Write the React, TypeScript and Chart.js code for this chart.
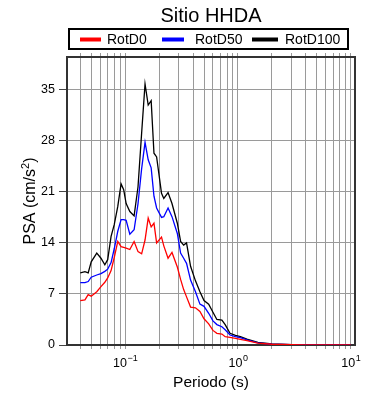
import React, { useEffect, useRef } from "react";
import { Chart, registerables } from "chart.js";

Chart.register(...registerables);

const chartTitle = "Sitio HHDA";
const xAxisTitle = "Periodo (s)";
const yAxisTitleMain = "PSA (cm/s";
const yAxisTitleSup = "2";
const yAxisTitleEnd = ")";

const seriesLabels = ["RotD0", "RotD50", "RotD100"];
const seriesColors = ["#ff0000", "#0000ff", "#000000"];

const periods = [
  0.04, 0.044, 0.047, 0.05, 0.056, 0.061, 0.066, 0.07, 0.075, 0.08, 0.086, 0.092, 0.097,
  0.102, 0.11, 0.12, 0.13, 0.14, 0.15, 0.16, 0.17, 0.18, 0.19, 0.21, 0.22, 0.24, 0.26,
  0.29, 0.31, 0.33, 0.35, 0.38, 0.42, 0.46, 0.5, 0.55, 0.6, 0.65, 0.72, 0.77, 0.85, 0.95,
  1.05, 1.2, 1.5, 2.0, 3.0, 4.0, 6.0, 10.0,
];

const rotD0 = [
  6.1, 6.2, 6.9, 6.7, 7.3, 8.0, 8.6, 9.2, 10.2, 12.0, 14.2, 13.5, 13.4,
  13.3, 13.1, 14.2, 12.8, 12.5, 14.4, 17.4, 16.2, 16.7, 14.0, 14.8, 13.6, 11.9, 12.7,
  10.7, 9.0, 7.6, 6.6, 5.2, 5.1, 4.6, 3.6, 2.9, 2.0, 1.6, 1.5, 1.14, 1.05, 0.92,
  0.78, 0.6, 0.25, 0.1, 0.04, 0.03, 0.02, 0.01,
];

const rotD50 = [
  8.55, 8.55, 8.7, 9.3, 9.6, 9.8, 10.1, 10.4, 11.3, 13.2, 15.6, 17.2, 17.2,
  17.1, 15.2, 15.8, 19.4, 24.2, 27.8, 25.4, 24.3, 20.4, 18.8, 17.5, 17.6, 18.8, 17.6,
  15.3, 12.6, 11.9, 11.2, 8.9, 7.3, 5.6, 5.3, 4.35, 3.3, 2.8, 2.5, 2.1, 1.37, 1.14,
  1.0, 0.7, 0.3, 0.1, 0.04, 0.02, 0.015, 0.01,
];

const rotD100 = [
  9.9, 10.05, 9.9, 11.4, 12.6, 11.9, 11.0, 11.7, 14.9, 16.5, 19.0, 22.1, 21.3,
  19.4, 18.3, 17.7, 21.7, 29.1, 35.8, 32.9, 33.5, 26.3, 25.8, 20.8, 20.1, 20.9, 19.4,
  16.7, 14.2, 13.7, 14.0, 10.8, 8.8, 7.3, 6.1, 5.6, 4.5, 3.5, 3.4, 2.8, 1.6, 1.33,
  1.14, 0.8, 0.37, 0.14, 0.05, 0.03, 0.02, 0.01,
];

const yTickValues = [0, 7, 14, 21, 28, 35];
const xGridValues = [
  0.04, 0.05, 0.06, 0.07, 0.08, 0.09, 0.1, 0.2, 0.3, 0.4, 0.5, 0.6, 0.7, 0.8, 0.9,
  1, 2, 3, 4, 5, 6, 7, 8, 9, 10,
];
const xMajorValues = [0.1, 1, 10];
const xMajorBase = ["10", "10", "10"];
const xMajorExp = ["\u22121", "0", "1"];

const FONT = "'Liberation Sans', Arial, Helvetica, sans-serif";

const decorPlugin = {
  id: "decor",
  beforeDatasetsDraw(chart: any) {
    const { ctx, chartArea: a } = chart;
    ctx.save();
    ctx.strokeStyle = "#333";
    ctx.lineWidth = 2;
    ctx.strokeRect(a.left, a.top, a.right - a.left, a.bottom - a.top);
    ctx.restore();
  },
  afterDraw(chart: any) {
    const { ctx, chartArea: a } = chart;
    const cx = (a.left + a.right) / 2;
    ctx.save();
    ctx.fillStyle = "#000";
    // title
    ctx.font = `20px ${FONT}`;
    ctx.textAlign = "center";
    ctx.textBaseline = "alphabetic";
    ctx.fillText(chartTitle, cx, 21.5);

    // legend box
    ctx.strokeStyle = "#000";
    ctx.lineWidth = 2;
    ctx.strokeRect(69, 29, 279, 20);
    const lineStarts = [80, 162, 252];
    const lineEnds = [101, 184, 278];
    const textStarts = [107, 195, 285];
    ctx.font = `14px ${FONT}`;
    ctx.textAlign = "left";
    ctx.textBaseline = "middle";
    chart.data.datasets.forEach((ds: any, i: number) => {
      ctx.strokeStyle = ds.borderColor;
      ctx.lineWidth = 4;
      ctx.beginPath();
      ctx.moveTo(lineStarts[i], 39.5);
      ctx.lineTo(lineEnds[i], 39.5);
      ctx.stroke();
      ctx.fillStyle = "#000";
      ctx.fillText(ds.label, textStarts[i], 40);
    });

    // x tick labels with superscripts
    const xs = chart.scales.x;
    xMajorValues.forEach((v, i) => {
      const px = xs.getPixelForValue(v);
      ctx.font = `12.5px ${FONT}`;
      const wb = ctx.measureText(xMajorBase[i]).width;
      ctx.font = `9px ${FONT}`;
      const we = ctx.measureText(xMajorExp[i]).width;
      const start = px - (wb + we) / 2;
      ctx.textAlign = "left";
      ctx.textBaseline = "alphabetic";
      ctx.font = `12.5px ${FONT}`;
      ctx.fillText(xMajorBase[i], start, 366.5);
      ctx.font = `9px ${FONT}`;
      ctx.fillText(xMajorExp[i], start + wb + 0.5, 361);
    });

    // x axis title
    ctx.font = `15.5px ${FONT}`;
    ctx.textAlign = "center";
    ctx.textBaseline = "alphabetic";
    ctx.fillText(xAxisTitle, cx, 387);

    // y axis title (rotated)
    const cy = (a.top + a.bottom) / 2;
    ctx.translate(35, cy);
    ctx.rotate(-Math.PI / 2);
    ctx.font = `16px ${FONT}`;
    const w1 = ctx.measureText(yAxisTitleMain).width;
    const w3 = ctx.measureText(yAxisTitleEnd).width;
    ctx.font = `11px ${FONT}`;
    const w2 = ctx.measureText(yAxisTitleSup).width;
    const total = w1 + w2 + w3;
    let x0 = -total / 2;
    ctx.textAlign = "left";
    ctx.font = `16px ${FONT}`;
    ctx.fillText(yAxisTitleMain, x0, 0);
    ctx.font = `11px ${FONT}`;
    ctx.fillText(yAxisTitleSup, x0 + w1, -6);
    ctx.font = `16px ${FONT}`;
    ctx.fillText(yAxisTitleEnd, x0 + w1 + w2, 0);
    ctx.restore();
  },
};

export default function App() {
  const ref = useRef<HTMLCanvasElement | null>(null);

  useEffect(() => {
    if (!ref.current) return;
    const series = [rotD0, rotD50, rotD100];
    const chart = new Chart(ref.current, {
      type: "line",
      data: {
        datasets: series.map((vals, i) => ({
          label: seriesLabels[i],
          data: periods.map((p, j) => ({ x: p, y: vals[j] })),
          borderColor: seriesColors[i],
          backgroundColor: seriesColors[i],
          borderWidth: 1.3,
          pointRadius: 0,
          tension: 0,
          fill: false,
        })),
      },
      options: {
        responsive: false,
        animation: false,
        events: [],
        layout: { padding: { top: 53, right: 35, left: 0, bottom: 0 } },
        plugins: {
          legend: { display: false },
          title: { display: false },
          tooltip: { enabled: false },
        },
        scales: {
          x: {
            type: "logarithmic",
            position: "bottom",
            min: 0.0305,
            max: 10.9,
            afterBuildTicks: (s: any) => {
              s.ticks = xGridValues.map((v) => ({ value: v }));
            },
            afterFit: (s: any) => {
              s.height = 55;
            },
            ticks: { display: false, autoSkip: false },
            grid: { color: "#9a9a9a", tickColor: "#9a9a9a", tickLength: 4, lineWidth: 1 },
            border: { display: false },
          },
          x2: {
            type: "logarithmic",
            position: "top",
            min: 0.0305,
            max: 10.9,
            afterBuildTicks: (s: any) => {
              s.ticks = xGridValues.map((v) => ({ value: v }));
            },
            afterFit: (s: any) => {
              s.height = 4;
            },
            ticks: { display: false, autoSkip: false },
            grid: { drawOnChartArea: false, tickColor: "#9a9a9a", tickLength: 4 },
            border: { display: false },
          },
          y: {
            type: "linear",
            min: 0,
            max: 39.5,
            afterBuildTicks: (s: any) => {
              s.ticks = yTickValues.map((v) => ({ value: v }));
            },
            afterFit: (s: any) => {
              s.width = 67;
            },
            ticks: {
              color: "#000",
              font: { family: FONT, size: 12.5 },
              padding: 4,
            },
            grid: { color: "#9a9a9a", tickColor: "#444", tickLength: 8, lineWidth: 1 },
            border: { display: false },
          },
        },
      } as any,
      plugins: [decorPlugin],
    });
    return () => chart.destroy();
  }, []);

  return (
    <div style={{ position: "absolute", left: 0, top: 0, width: 390, height: 400, background: "#fff" }}>
      <canvas ref={ref} width={390} height={400} style={{ display: "block" }} />
    </div>
  );
}
